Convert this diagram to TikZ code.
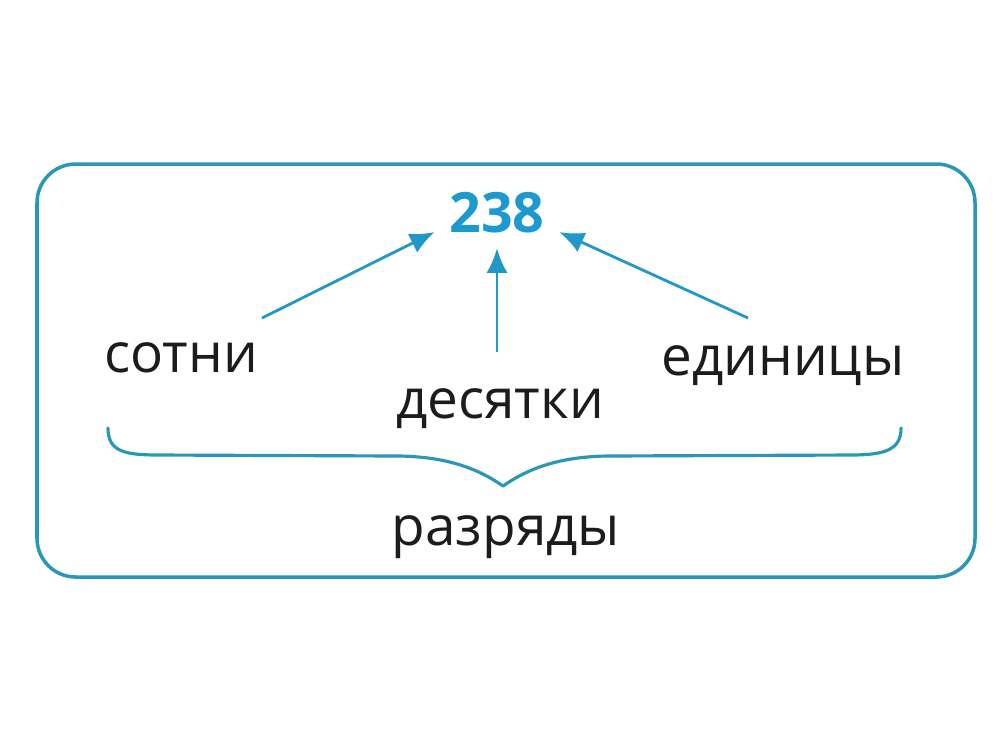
\documentclass[tikz,border=0pt]{standalone}
\usepackage{fontspec}
\setmainfont{Open Sans}
\usetikzlibrary{arrows.meta}
\definecolor{boxcol}{HTML}{2A97B6}
\definecolor{arrcol}{HTML}{2298C8}
\definecolor{numcol}{HTML}{1C9AD0}
\definecolor{txt}{HTML}{1C1C1C}
\tikzset{
  word/.style={anchor=base, inner sep=0pt, text=txt, font=\fontsize{15.6}{18}\selectfont},
  numbox/.style={inner sep=4pt, text=numcol, font=\bfseries\fontsize{15.8}{18}\selectfont},
  arr/.style={draw=arrcol, line width=0.8pt, -{Latex[length=7pt,width=6pt]}},
  framebox/.style={draw=boxcol, line width=1pt, rounded corners=11pt},
  bracepath/.style={draw=boxcol, line width=0.9pt, line cap=round, line join=round}
}
\begin{document}
\begin{tikzpicture}[x=0.01cm,y=-0.01cm]
\useasboundingbox (0,0) rectangle (1000,750);
\draw[framebox] (37,164) rectangle (975,577);
\node[numbox] (num) at (497,213) {238};
\node[word] (sotni) at (181,372) {сотни};
\node[word] (des) at (500,418) {десятки};
\node[word] (edin) at (783,375) {единицы};
\node[word] (razr) at (506,545) {разряды};
\coordinate (s1) at (262,318);
\coordinate (s2) at (497,352);
\coordinate (s3) at (748,318);
\draw[arr] (s1) -- (num.197);
\draw[arr] (s2) -- (num.south);
\draw[arr] (s3) -- (num.-17);
\draw[bracepath] (108,428) .. controls (108,452) and (125,455) .. (160,455) -- (400,456) .. controls (450,457) and (480,470) .. (503,486) .. controls (526,470) and (556,457) .. (606,456) -- (850,455) .. controls (885,455) and (901,450) .. (901,428);
\end{tikzpicture}
\end{document}
